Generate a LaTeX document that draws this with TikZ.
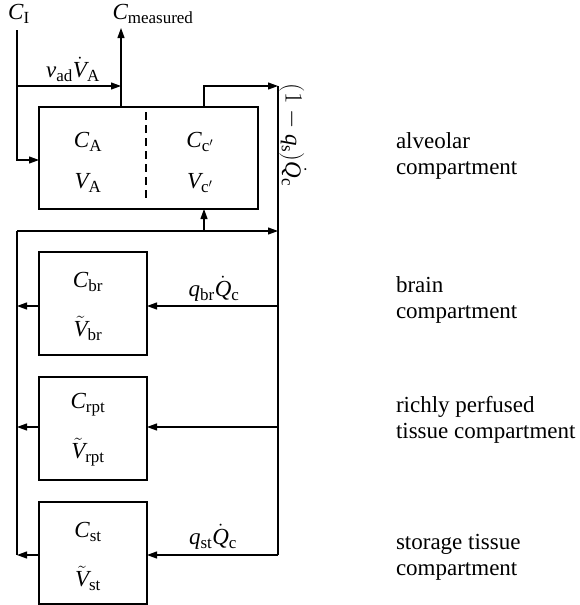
\documentclass[tikz,border=0pt]{standalone}
\usepackage{fontspec}
\setmainfont{Liberation Serif}
\usetikzlibrary{arrows.meta}
\DeclareMathSizes{23}{23}{17}{13}
\newcommand\mi[1]{\mathit{#1}}
\newcommand\mr[1]{\mathrm{#1}}
\tikzset{
  lbl/.style={inner sep=0pt, outer sep=0pt, font=\fontsize{23}{26}\selectfont},
  compbox/.style={draw, line width=1.1pt, inner sep=0pt, outer sep=0pt},
  wire/.style={line width=1.1pt},
  flow/.style={line width=1.1pt, -{Triangle[length=10pt,width=7pt]}},
}
\begin{document}
\begin{tikzpicture}[x=1pt, y=-1pt]
\useasboundingbox (0,0) rectangle (579,605);

% compartments
\node[compbox, minimum width=219pt, minimum height=102pt] (alv) at (148.5,158) {};
\node[compbox, minimum width=108pt, minimum height=103pt] (br)  at (93,303.5) {};
\node[compbox, minimum width=108pt, minimum height=103pt] (rpt) at (93,428.5) {};
\node[compbox, minimum width=108pt, minimum height=102pt] (st)  at (93,553) {};

% split of the alveolar compartment
\coordinate (dT) at (146,112);
\coordinate (dB) at (146,202);
\draw[line width=1.1pt, dash pattern=on 8pt off 5pt] (dT) -- (dB);

% contents
\node[lbl] (CA)  at (88,142) {$\mi{C}_{\mr{A}}$};
\node[lbl] (VA)  at (88,183) {$\mi{V}_{\mr{A}}$};
\node[lbl] (Cc)  at (200,142) {$\mi{C}_{\mr{c}'}$};
\node[lbl] (Vc)  at (200,183) {$\mi{V}_{\mr{c}'}$};
\node[lbl] (Cbr) at (88,282) {$\mi{C}_{\mr{br}}$};
\node[lbl] (Vbr) at (88,328) {$\tilde{\mi{V}}_{\mr{br}}$};
\node[lbl] (Crpt) at (88,405) {$\mi{C}_{\mr{rpt}}$};
\node[lbl] (Vrpt) at (88,452) {$\tilde{\mi{V}}_{\mr{rpt}}$};
\node[lbl] (Cst) at (88,532) {$\mi{C}_{\mr{st}}$};
\node[lbl] (Vst) at (88,578) {$\tilde{\mi{V}}_{\mr{st}}$};

% inputs and outputs
\node[lbl] (CI)   at (19,14) {$\mi{C}_{\mr{I}}$};
\node[lbl] (Cmeas) at (153,14) {$\mi{C}_{\mr{measured}}$};
\node[lbl] (vad)  at (73,69) {$\mi{v}_{\mr{ad}}\dot{\mi{V}}_{\mr{A}}$};
\node[lbl] (qbr)  at (214,289) {$\mi{q}_{\mr{br}}\dot{\mi{Q}}_{\mr{c}}$};
\node[lbl] (qst)  at (213,537) {$\mi{q}_{\mr{st}}\dot{\mi{Q}}_{\mr{c}}$};
\node[lbl, rotate=-90] (qs) at (293,135) {$(1-\mi{q}_{\mr{s}})\dot{\mi{Q}}_{\mr{c}}$};

% compartment names
\node[lbl, anchor=west, align=left] (nA)   at (396,156) {alveolar\\compartment};
\node[lbl, anchor=west, align=left] (nbr)  at (396,300) {brain\\compartment};
\node[lbl, anchor=west, align=left] (nrpt) at (396,420) {richly perfused\\tissue compartment};
\node[lbl, anchor=west, align=left] (nst)  at (396,557) {storage tissue\\compartment};

% junction points
\coordinate (ci)   at (17,30);
\coordinate (inA)  at (39,160);
\coordinate (kB)   at (17,86);
\coordinate (mB)   at (121,86);
\coordinate (mTop) at (121,28);
\coordinate (out)  at (204,86);
\coordinate (Rt)   at (278,86);
\coordinate (Lt)   at (17,231);
\coordinate (J)    at (278,231);
\coordinate (up)   at (204,231);
\coordinate (Lb)   at (17,555);
\coordinate (Rb)   at (278,555);
\coordinate (ybr)  at (0,306);
\coordinate (yrpt) at (0,427);
\coordinate (yst)  at (0,555);

% inspired air
\draw[flow] (ci) |- (inA);
\draw[flow] (kB) -- (mB);
\draw[flow] (alv.north -| mTop) -- (mTop);

% blood through the lungs
\draw[flow] (alv.north -| out) -- (out) -- (Rt);
\draw[wire] (Rt) -- (Rb);
\draw[flow] (Lt) -- (J);
\draw[flow] (up) -- (alv.south -| up);
\draw[wire] (Lt) -- (Lb);

% arterial supply and venous return
\draw[flow] (ybr -| Rt) -- (ybr -| br.east);
\draw[flow] (ybr -| br.west) -- (ybr -| Lt);
\draw[flow] (yrpt -| Rt) -- (yrpt -| rpt.east);
\draw[flow] (yrpt -| rpt.west) -- (yrpt -| Lt);
\draw[flow] (yst -| Rt) -- (yst -| st.east);
\draw[flow] (yst -| st.west) -- (yst -| Lt);
\end{tikzpicture}
\end{document}
